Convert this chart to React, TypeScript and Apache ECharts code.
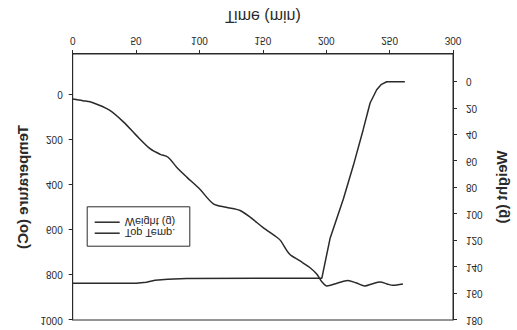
import React, { useEffect, useRef } from "react";
import * as echarts from "echarts";

// The reference picture is a vertically mirrored scan; the chart is drawn upright and mirrored with CSS.
const timeTicks = [0, 50, 100, 150, 200, 250, 300];
const tempTicks = [0, 200, 400, 600, 800, 1000];
const weightTicks = [0, 20, 40, 60, 80, 100, 120, 140, 160, 180];

const tempTime = [0, 8, 16, 29, 40, 50, 61, 69, 75, 82, 90, 100, 111, 121, 132, 140, 150, 161, 164, 171, 179, 187, 192.5, 196.5, 200.5, 208.5, 217, 223.5, 230.5, 236, 242.5, 248, 252.5, 260.5];
const topTemp = [20, 27, 36, 69, 121, 180, 240, 265, 277, 322, 366, 418, 485, 500, 514, 544, 589, 633, 648, 707, 737, 767, 796, 830, 849, 837, 825, 835, 849, 840, 831, 840, 846, 840];

const weightTime = [0, 50, 58, 65, 75, 90, 150, 196.5, 203, 213.5, 221.3, 229.2, 234.6, 239.8, 243.2, 247.7, 262];
const weight = [152.3, 152.3, 151.5, 150, 149.2, 148.6, 148.5, 148.5, 118.5, 88.5, 63.5, 36, 16, 6, 2.2, 0, 0];

const FONT = "'Liberation Sans', Arial, sans-serif";
const INK = "#2a2a2a";

export default function App() {
  const ref = useRef<HTMLDivElement>(null);

  useEffect(() => {
    if (!ref.current) return;
    const chart = echarts.init(ref.current, undefined, { renderer: "svg" });
    const tempData = tempTime.map((t, i) => [t, topTemp[i]]);
    const weightData = weightTime.map((t, i) => [t, weight[i]]);
    const plain = (v: number) => String(v);

    chart.setOption({
      animation: false,
      backgroundColor: "#ffffff",
      textStyle: { fontFamily: FONT, color: INK },
      grid: {
        left: 72.7,
        right: 64,
        top: 10,
        bottom: 54,
        show: true,
        borderColor: INK,
        borderWidth: 1,
        backgroundColor: "transparent",
      },
      graphic: [
        {
          type: "rect",
          left: 86.7,
          top: 83.3,
          z: 5,
          shape: { width: 102.6, height: 39.4 },
          style: { fill: "#ffffff", stroke: INK, lineWidth: 1 },
        },
      ],
      legend: {
        orient: "vertical",
        left: 86.7,
        top: 83.3,
        z: 10,
        data: [
          { name: "Top Temp.", icon: "rect" },
          { name: "Weight (g)", icon: "rect" },
        ],
        padding: [8, 14, 9, 8],
        itemWidth: 25,
        itemHeight: 1.5,
        itemGap: 0,
        textStyle: { fontFamily: FONT, fontSize: 11, color: INK, lineHeight: 11 },
      },
      xAxis: {
        type: "value",
        min: 0,
        max: 300,
        interval: 50,
        name: "Time (min)",
        nameLocation: "middle",
        nameGap: 30,
        nameTextStyle: { fontFamily: FONT, fontSize: 16, color: INK },
        axisLine: { show: true, onZero: false, lineStyle: { color: INK, width: 1 } },
        axisTick: { show: true, length: 4, lineStyle: { color: INK } },
        axisLabel: { margin: 9, fontFamily: FONT, fontSize: 10, color: INK, formatter: plain },
        splitLine: { show: false },
      },
      yAxis: [
        {
          type: "value",
          position: "left",
          min: -180,
          max: 1000,
          name: "Temperature (oC)",
          nameLocation: "middle",
          nameRotate: 90,
          nameGap: 37,
          nameTextStyle: { fontFamily: FONT, fontSize: 15, fontWeight: "bold", color: INK },
          axisLine: { show: true, onZero: false, lineStyle: { color: INK, width: 1 } },
          axisTick: { show: true, length: 4, lineStyle: { color: INK }, customValues: tempTicks },
          axisLabel: { margin: 10, fontFamily: FONT, fontSize: 10, color: INK, customValues: tempTicks, formatter: plain },
          splitLine: { show: false },
        },
        {
          type: "value",
          position: "right",
          min: -21,
          max: 180,
          name: "Weight (g)",
          nameLocation: "middle",
          nameRotate: 90,
          nameGap: 39,
          nameTextStyle: { fontFamily: FONT, fontSize: 15, fontWeight: "bold", color: INK },
          axisLine: { show: true, onZero: false, lineStyle: { color: INK, width: 1 } },
          axisTick: { show: true, length: 4, lineStyle: { color: INK }, customValues: weightTicks },
          axisLabel: { margin: 13, fontFamily: FONT, fontSize: 10, color: INK, customValues: weightTicks, formatter: plain },
          splitLine: { show: false },
        },
      ],
      series: [
        {
          name: "Weight (g)",
          type: "line",
          yAxisIndex: 1,
          data: weightData,
          symbol: "none",
          smooth: false,
          lineStyle: { color: INK, width: 1.5 },
          itemStyle: { color: INK },
        },
        {
          name: "Top Temp.",
          type: "line",
          yAxisIndex: 0,
          data: tempData,
          symbol: "none",
          smooth: 0.3,
          lineStyle: { color: INK, width: 1.5 },
          itemStyle: { color: INK },
        },
      ],
    });

    return () => chart.dispose();
  }, []);

  return (
    <div
      ref={ref}
      style={{
        position: "absolute",
        left: 0,
        top: 0,
        width: 517,
        height: 330,
        transform: "scaleY(-1)",
        background: "#fff",
      }}
    />
  );
}
